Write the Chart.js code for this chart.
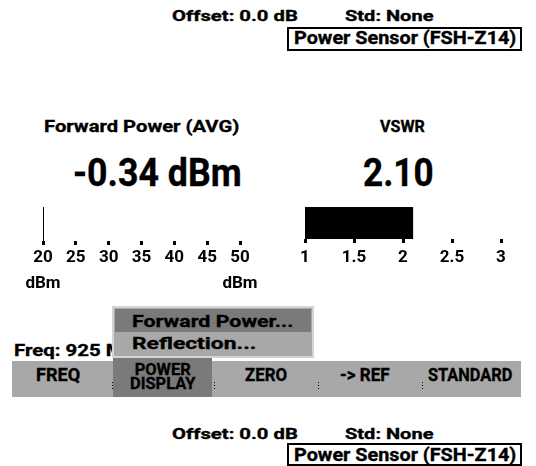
<!DOCTYPE html>
<html><head><meta charset="utf-8">
<script src="https://cdn.jsdelivr.net/npm/chart.js@4.4.1/dist/chart.umd.min.js"></script>
<style>
html,body{margin:0;padding:0;background:#fff;width:536px;height:466px;overflow:hidden;}
#root{position:relative;width:536px;height:466px;}
.t{position:absolute;white-space:nowrap;font-family:Roboto,"DejaVu Sans",sans-serif;font-weight:700;color:#000;line-height:0.78;transform-origin:0 0;-webkit-text-stroke:0.35px #000;}
.box{position:absolute;border:2px solid #000;box-sizing:border-box;background:#fff;}
.rect{position:absolute;}
.sep{position:absolute;width:1px;height:9px;background:repeating-linear-gradient(#000 0 1px,transparent 1px 3px);}
canvas{position:absolute;}
</style>
</head><body>
<div id="root">
  <canvas id="fwd" width="237" height="100" style="left:23px;top:200px"></canvas>
  <canvas id="vswr" width="236" height="76" style="left:285px;top:200px"></canvas>
</div>
<script>
// ---- data ----
const offsetText = 'Offset: 0.0 dB';
const stdText = 'Std: None';
const sensorText = 'Power Sensor (FSH-Z14)';
const fwdTitle = 'Forward Power (AVG)';
const fwdUnit = 'dBm';
const fwdValue = -0.34;
const fwdTicks = [20, 25, 30, 35, 40, 45, 50];
const vswrTitle = 'VSWR';
const vswrValue = 2.10;
const vswrTicks = [1, 1.5, 2, 2.5, 3];
const freqText = 'Freq: 925 MHz';
const menuItems = ['Forward Power...', 'Reflection...'];
const softkeys = ['FREQ', ['POWER', 'DISPLAY'], 'ZERO', '-> REF', 'STANDARD'];

const root = document.getElementById('root');
const FONT = 'Roboto,"DejaVu Sans",sans-serif';
const mctx = document.createElement('canvas').getContext('2d');

function rect(x, y, w, h, bg, extra) {
  const d = document.createElement('div');
  d.className = 'rect';
  Object.assign(d.style, {left: x + 'px', top: y + 'px', width: w + 'px', height: h + 'px', background: bg});
  if (extra) Object.assign(d.style, extra);
  root.appendChild(d);
  return d;
}
// place text so that the ink of fitStr (default: the text) spans [left,right] and cap height spans [capTop,capBottom]
function text(str, left, right, capTop, capBottom, z, fitStr) {
  const fs = (capBottom - capTop) / 0.711;
  mctx.font = '700 ' + fs + 'px ' + FONT;
  const m = mctx.measureText(fitStr || str);
  const ink = m.actualBoundingBoxRight + m.actualBoundingBoxLeft;
  const s = (right - left) / ink;
  const d = document.createElement('div');
  d.className = 't';
  d.textContent = str;
  d.style.fontSize = fs + 'px';
  d.style.left = (left + s * m.actualBoundingBoxLeft) + 'px';
  d.style.top = (capBottom - 0.732 * fs) + 'px';
  d.style.transform = 'scaleX(' + s + ')';
  if (z) d.style.zIndex = z;
  root.appendChild(d);
  return d;
}
// two-line centred label in one element
function text2(lines, cx, wideInk, capTop, capBottom, lineGap, z) {
  const fs = (capBottom - capTop) / 0.711;
  mctx.font = '700 ' + fs + 'px ' + FONT;
  const widths = lines.map(l => mctx.measureText(l));
  const wide = widths.reduce((a, b) => (b.width > a.width ? b : a));
  const s = wideInk / (wide.actualBoundingBoxRight + wide.actualBoundingBoxLeft);
  const W = Math.max(...widths.map(w => w.width));
  const d = document.createElement('div');
  d.className = 't';
  d.style.textAlign = 'center';
  d.style.fontSize = fs + 'px';
  d.style.lineHeight = lineGap + 'px';
  d.style.width = W + 'px';
  d.innerHTML = lines.join('<br>');
  d.style.left = (cx - s * W / 2) + 'px';
  d.style.top = (capBottom - lineGap / 2 - 0.342 * fs) + 'px';
  d.style.transform = 'scaleX(' + s + ')';
  if (z) d.style.zIndex = z;
  root.appendChild(d);
  return d;
}

// header
text(offsetText, 172, 298, 10, 21);
text(stdText, 345, 433, 10, 21);
const b1 = document.createElement('div'); b1.className = 'box';
Object.assign(b1.style, {left: '287px', top: '27px', width: '235px', height: '24px'}); root.appendChild(b1);
text(sensorText, 295, 516, 32, 44.5);

// readouts
text(fwdTitle, 45, 238, 120, 132);
text(vswrTitle, 380, 425, 120, 132);
text(fwdValue.toFixed(2) + ' ' + fwdUnit, 75, 240, 160, 187);
text(vswrValue.toFixed(2), 364, 433, 160, 187);

// freq line (partly hidden by menu)
text(freqText, 15, 100, 345, 356.5, null, 'Freq: 925');

// softkey bar
rect(12, 361, 509, 36, '#a8a8a8');
rect(113, 358, 99, 39, '#7a7a7a', {zIndex: 3});
// popup menu
rect(112, 306, 202, 52, '#a8a8a8', {boxSizing: 'border-box', border: '2px solid #d4d4d4', zIndex: 2});
rect(115, 309, 196, 23, '#7a7a7a', {zIndex: 2});
text(menuItems[0], 133, 292, 315, 327, 4);
text(menuItems[1], 133, 255, 338, 349.5, 4);

// softkey labels
const keyGeom = [[37, 80], [130, 195], [245, 287], [340, 390], [428, 512]];
softkeys.forEach((k, i) => {
  const [l, r] = keyGeom[i];
  if (Array.isArray(k)) {
    text2(k, (l + r) / 2, r - l, 364, 376, 13.5, 5);
  } else {
    text(k, l, r, 369, 381.5, 5);
  }
});
[112, 214, 318, 422].forEach(x => {
  const d = document.createElement('div'); d.className = 'sep';
  d.style.left = x + 'px'; d.style.top = '382px'; d.style.zIndex = 6; root.appendChild(d);
});

// footer
text(offsetText, 172, 298, 428, 439);
text(stdText, 345, 433, 428, 439);
const b2 = document.createElement('div'); b2.className = 'box';
Object.assign(b2.style, {left: '287px', top: '443px', width: '235px', height: '23px'}); root.appendChild(b2);
text(sensorText, 295, 516, 449.5, 462);

// ---- gauges ----
Chart.defaults.font.family = FONT;
const tickFont = {family: FONT, weight: 'bold', size: 17, lineHeight: '26px'};
const fwdMin = fwdTicks[0], fwdMax = fwdTicks[fwdTicks.length - 1];
const fwdShown = Math.min(Math.max(fwdValue, fwdMin), fwdMax);

new Chart(document.getElementById('fwd'), {
  type: 'scatter',
  data: {datasets: [{
    data: [{x: fwdShown, y: 0}, {x: fwdShown, y: 1}],
    showLine: true, borderColor: '#000', borderWidth: 2, pointRadius: 0, borderCapStyle: 'butt'
  }]},
  options: {
    responsive: false, animation: false, devicePixelRatio: 1,
    layout: {padding: {left: 20, right: 20, top: 7, bottom: 3}},
    plugins: {legend: {display: false}, tooltip: {enabled: false}},
    scales: {
      x: {
        type: 'linear', min: fwdMin, max: fwdMax,
        afterBuildTicks: s => { s.ticks = fwdTicks.map(v => ({value: v})); },
        afterFit: s => { s.height = 56; },
        grid: {drawOnChartArea: false, drawTicks: true, tickLength: 4, tickWidth: 3, tickColor: '#000'},
        border: {display: false},
        ticks: {
          color: '#000', font: tickFont, padding: 0, maxRotation: 0, autoSkip: false,
          callback: (v, i, arr) => (i === 0 || i === arr.length - 1) ? [String(v), fwdUnit] : String(v)
        }
      },
      y: {type: 'linear', min: 0, max: 1, display: false}
    }
  }
});

new Chart(document.getElementById('vswr'), {
  type: 'bar',
  data: {labels: [vswrTitle], datasets: [{data: [vswrValue], backgroundColor: '#000', borderWidth: 0, barPercentage: 1, categoryPercentage: 1}]},
  options: {
    indexAxis: 'y', responsive: false, animation: false, devicePixelRatio: 1,
    layout: {padding: {left: 20, right: 20, top: 7, bottom: 3}},
    plugins: {legend: {display: false}, tooltip: {enabled: false}},
    scales: {
      x: {
        type: 'linear', min: vswrTicks[0], max: vswrTicks[vswrTicks.length - 1],
        afterBuildTicks: s => { s.ticks = vswrTicks.map(v => ({value: v})); },
        afterFit: s => { s.height = 34; },
        grid: {drawOnChartArea: false, drawTicks: true, tickLength: 4, tickWidth: 3, tickColor: '#000'},
        border: {display: false},
        ticks: {color: '#000', font: tickFont, padding: 2, maxRotation: 0, autoSkip: false, callback: v => String(v)}
      },
      y: {display: false}
    }
  }
});
</script>
</body></html>
